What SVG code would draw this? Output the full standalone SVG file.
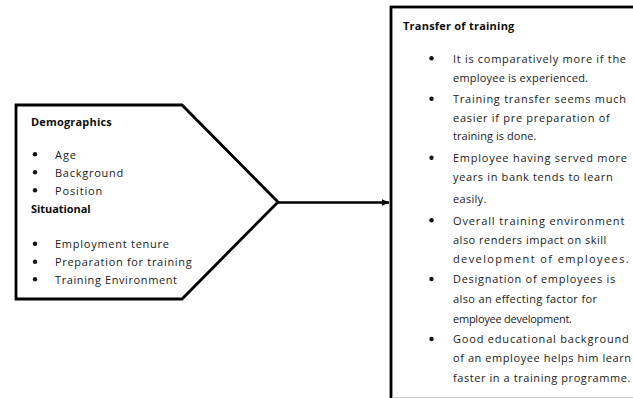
<svg xmlns="http://www.w3.org/2000/svg" width="633" height="398" viewBox="0 0 633 398">
  <style>
    .shape { fill: #ffffff; stroke: #000000; stroke-width: 2.8; stroke-linejoin: miter; }
    .head { font-family: "Open Sans", "Liberation Sans", sans-serif; font-size: 11px; font-weight: bold; fill: #0d0d0d; }
    .item { font-family: "Open Sans", "Liberation Sans", sans-serif; font-size: 11px; fill: #1a1a1a; }
    .dot { fill: #111111; }
    .link { stroke: #000000; stroke-width: 2.6; fill: none; }
  </style>
  <defs>
    <marker id="arrow" markerUnits="userSpaceOnUse" markerWidth="8" markerHeight="8" refX="7" refY="4" orient="auto">
      <path d="M0,0.8 L7,4 L0,7.2 z" fill="#000000"/>
    </marker>
  </defs>

  <rect width="633" height="398" fill="#ffffff"/>

  <!-- factor groups: pentagon pointing right -->
  <g id="factors">
    <polygon class="shape" points="16,105 182,105 278,202 182,299 16,299"/>
    <text class="head" x="31" y="126" textLength="80.7">Demographics</text>
    <circle class="dot" cx="35" cy="154.2" r="2.2"/>
    <text class="item" x="55" y="158.5" textLength="21">Age</text>
    <circle class="dot" cx="35" cy="172.2" r="2.2"/>
    <text class="item" x="55" y="176.5" textLength="68.3">Background</text>
    <circle class="dot" cx="35" cy="190.2" r="2.2"/>
    <text class="item" x="55" y="194.5" textLength="47.3">Position</text>
    <text class="head" x="31" y="212.5" textLength="59.7">Situational</text>
    <circle class="dot" cx="35" cy="243.7" r="2.2"/>
    <text class="item" x="55" y="248" textLength="114">Employment tenure</text>
    <circle class="dot" cx="35" cy="261.7" r="2.2"/>
    <text class="item" x="55" y="266" textLength="136.7">Preparation for training</text>
    <circle class="dot" cx="35" cy="279.2" r="2.2"/>
    <text class="item" x="55" y="283.5" textLength="122">Training Environment</text>
  </g>

  <!-- outcome box, running past the right and bottom edges -->
  <g id="transfer">
    <rect class="shape" x="391" y="7" width="260" height="400"/>
    <line x1="392" y1="397.5" x2="633" y2="397.5" stroke="#d0d0d0" stroke-width="1"/>
    <text class="head" x="403" y="30" textLength="111.3">Transfer of training</text>

    <circle class="dot" cx="431.5" cy="58.2" r="2.2"/>
    <text class="item" x="453" y="62.5" textLength="173">It is comparatively more if the</text>
    <text class="item" x="453" y="81.5" textLength="135">employee is experienced.</text>

    <circle class="dot" cx="431.5" cy="98.7" r="2.2"/>
    <text class="item" x="453" y="103" textLength="173">Training transfer seems much</text>
    <text class="item" x="453" y="121.5" textLength="156.7">easier if pre preparation of</text>
    <text class="item" x="453" y="140" textLength="83.3">training is done.</text>

    <circle class="dot" cx="431.5" cy="157.7" r="2.2"/>
    <text class="item" x="453" y="162" textLength="174">Employee having served more</text>
    <text class="item" x="453" y="181" textLength="159.7">years in bank tends to learn</text>
    <text class="item" x="453" y="203" textLength="33.3">easily.</text>

    <circle class="dot" cx="431.5" cy="220.2" r="2.2"/>
    <text class="item" x="453" y="224.5" textLength="171.3">Overall training environment</text>
    <text class="item" x="453" y="244" textLength="153.3">also renders impact on skill</text>
    <text class="item" x="453" y="263" textLength="175.7">development of employees.</text>

    <circle class="dot" cx="431.5" cy="279" r="2.2"/>
    <text class="item" x="453" y="283.3" textLength="162.3">Designation of employees is</text>
    <text class="item" x="453" y="303" textLength="144">also an effecting factor for</text>
    <text class="item" x="453" y="323" textLength="119">employee development.</text>

    <circle class="dot" cx="431.5" cy="339" r="2.2"/>
    <text class="item" x="453" y="343.3" textLength="175.7">Good educational background</text>
    <text class="item" x="453" y="362.3" textLength="178">of an employee helps him learn</text>
    <text class="item" x="453" y="381.7" textLength="177.3">faster in a training programme.</text>
  </g>

  <g id="connectors">
    <line class="link" x1="278" y1="202.5" x2="389" y2="202.5" marker-end="url(#arrow)"/>
  </g>
</svg>
